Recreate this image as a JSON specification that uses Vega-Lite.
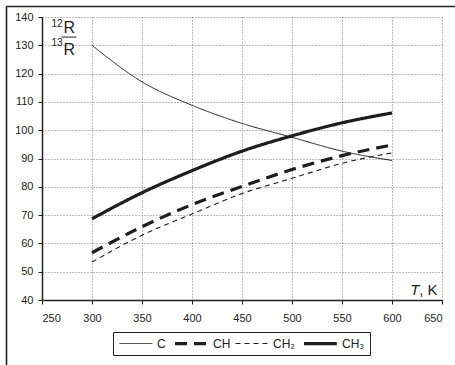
{
  "$schema": "https://vega.github.io/schema/vega-lite/v6.json",
  "width": 400,
  "height": 283,
  "autosize": {"type": "none"},
  "padding": {"left": 42, "top": 17, "right": 13, "bottom": 65},
  "background": "white",
  "config": {
    "view": {"stroke": null},
    "font": "Liberation Sans",
    "axis": {
      "labelFont": "Liberation Sans",
      "labelFontSize": 11,
      "labelColor": "#222",
      "domainColor": "#222",
      "domainWidth": 1.5,
      "tickColor": "#222",
      "tickWidth": 1,
      "tickSize": 4,
      "gridColor": "#7a7a7a",
      "gridDash": [1, 2],
      "gridWidth": 1,
      "labelOverlap": false,
      "title": null
    },
    "axisX": {"labelPadding": 8},
    "axisY": {"labelPadding": 5}
  },
  "datasets": {
    "series": [
      {"T": 300, "R": 130.0, "s": "C"},
      {"T": 350, "R": 117.1, "s": "C"},
      {"T": 400, "R": 108.8, "s": "C"},
      {"T": 450, "R": 102.4, "s": "C"},
      {"T": 500, "R": 97.5, "s": "C"},
      {"T": 550, "R": 92.6, "s": "C"},
      {"T": 600, "R": 89.3, "s": "C"},
      {"T": 300, "R": 56.7, "s": "CH"},
      {"T": 350, "R": 65.9, "s": "CH"},
      {"T": 400, "R": 73.7, "s": "CH"},
      {"T": 450, "R": 80.1, "s": "CH"},
      {"T": 500, "R": 86.1, "s": "CH"},
      {"T": 550, "R": 91.0, "s": "CH"},
      {"T": 600, "R": 94.8, "s": "CH"},
      {"T": 300, "R": 53.4, "s": "CH₂"},
      {"T": 350, "R": 62.9, "s": "CH₂"},
      {"T": 400, "R": 70.4, "s": "CH₂"},
      {"T": 450, "R": 77.6, "s": "CH₂"},
      {"T": 500, "R": 83.0, "s": "CH₂"},
      {"T": 550, "R": 88.3, "s": "CH₂"},
      {"T": 600, "R": 92.0, "s": "CH₂"},
      {"T": 300, "R": 68.7, "s": "CH₃"},
      {"T": 350, "R": 77.9, "s": "CH₃"},
      {"T": 400, "R": 85.7, "s": "CH₃"},
      {"T": 450, "R": 92.6, "s": "CH₃"},
      {"T": 500, "R": 98.0, "s": "CH₃"},
      {"T": 550, "R": 102.6, "s": "CH₃"},
      {"T": 600, "R": 106.1, "s": "CH₃"}
    ],
    "one": [{}]
  },
  "layer": [
    {
      "data": {"name": "series"},
      "mark": {"type": "line", "interpolate": "monotone", "color": "#1e1e1e"},
      "encoding": {
        "x": {
          "field": "T", "type": "quantitative",
          "scale": {"domain": [250, 650], "nice": false, "zero": false},
          "axis": {"grid": true, "values": [250, 300, 350, 400, 450, 500, 550, 600, 650]}
        },
        "y": {
          "field": "R", "type": "quantitative",
          "scale": {"domain": [40, 140], "nice": false, "zero": false},
          "axis": {"grid": true, "values": [40, 50, 60, 70, 80, 90, 100, 110, 120, 130, 140]}
        },
        "detail": {"field": "s"},
        "strokeDash": {
          "field": "s", "type": "nominal",
          "scale": {"domain": ["C", "CH", "CH₂", "CH₃"], "range": [[1, 0], [12, 7], [5, 4], [1, 0]]},
          "legend": {
            "title": null,
            "orient": "none",
            "legendX": 71,
            "legendY": 315,
            "direction": "horizontal",
            "symbolType": "M-1,0H6.3",
            "symbolSize": 81,
            "symbolStrokeColor": "#1e1e1e",
            "symbolFillColor": "transparent",
            "labelFont": "Liberation Sans",
            "labelFontSize": 12,
            "labelColor": "#222",
            "labelOffset": 27,
            "columnPadding": 2,
            "padding": 5,
            "strokeColor": "#222",
            "fillColor": "white"
          }
        },
        "strokeWidth": {
          "field": "s", "type": "nominal",
          "scale": {"type": "ordinal", "domain": ["C", "CH", "CH₂", "CH₃"], "range": [1, 3.2, 1.1, 3.2]},
          "legend": null
        }
      }
    },
    {
      "data": {"name": "one"},
      "mark": {"type": "rule", "clip": false, "color": "#222", "strokeWidth": 1.6},
      "encoding": {
        "x": {"datum": 214.5, "type": "quantitative", "axis": {"grid": true, "values": [250, 300, 350, 400, 450, 500, 550, 600, 650]}},
        "x2": {"datum": 700},
        "y": {"datum": 143.7, "type": "quantitative", "axis": {"grid": true, "values": [40, 50, 60, 70, 80, 90, 100, 110, 120, 130, 140]}}
      }
    },
    {
      "data": {"name": "one"},
      "mark": {"type": "rule", "clip": false, "color": "#222", "strokeWidth": 1.6},
      "encoding": {
        "x": {"datum": 214.5, "type": "quantitative", "axis": {"grid": true, "values": [250, 300, 350, 400, 450, 500, 550, 600, 650]}},
        "y": {"datum": 143.7, "type": "quantitative", "axis": {"grid": true, "values": [40, 50, 60, 70, 80, 90, 100, 110, 120, 130, 140]}},
        "y2": {"datum": 10}
      }
    },
    {
      "data": {"name": "one"},
      "mark": {"type": "rule", "clip": false, "color": "#222", "strokeWidth": 1},
      "encoding": {
        "x": {"datum": 269.5, "type": "quantitative", "axis": {"grid": true, "values": [250, 300, 350, 400, 450, 500, 550, 600, 650]}},
        "x2": {"datum": 284.5},
        "y": {"datum": 132.9, "type": "quantitative", "axis": {"grid": true, "values": [40, 50, 60, 70, 80, 90, 100, 110, 120, 130, 140]}}
      }
    },
    {
      "data": {"name": "one"},
      "mark": {"type": "text", "text": "12", "align": "right", "baseline": "alphabetic", "fontSize": 10, "color": "#222"},
      "encoding": {
        "x": {"datum": 270.5, "type": "quantitative", "axis": {"grid": true, "values": [250, 300, 350, 400, 450, 500, 550, 600, 650]}},
        "y": {"datum": 136.6, "type": "quantitative", "axis": {"grid": true, "values": [40, 50, 60, 70, 80, 90, 100, 110, 120, 130, 140]}}
      }
    },
    {
      "data": {"name": "one"},
      "mark": {"type": "text", "text": "R", "align": "left", "baseline": "alphabetic", "fontSize": 16, "color": "#222"},
      "encoding": {
        "x": {"datum": 271.5, "type": "quantitative", "axis": {"grid": true, "values": [250, 300, 350, 400, 450, 500, 550, 600, 650]}},
        "y": {"datum": 134.3, "type": "quantitative", "axis": {"grid": true, "values": [40, 50, 60, 70, 80, 90, 100, 110, 120, 130, 140]}}
      }
    },
    {
      "data": {"name": "one"},
      "mark": {"type": "text", "text": "13", "align": "right", "baseline": "alphabetic", "fontSize": 10, "color": "#222"},
      "encoding": {
        "x": {"datum": 270.5, "type": "quantitative", "axis": {"grid": true, "values": [250, 300, 350, 400, 450, 500, 550, 600, 650]}},
        "y": {"datum": 129.6, "type": "quantitative", "axis": {"grid": true, "values": [40, 50, 60, 70, 80, 90, 100, 110, 120, 130, 140]}}
      }
    },
    {
      "data": {"name": "one"},
      "mark": {"type": "text", "text": "R", "align": "left", "baseline": "alphabetic", "fontSize": 16, "color": "#222"},
      "encoding": {
        "x": {"datum": 271.5, "type": "quantitative", "axis": {"grid": true, "values": [250, 300, 350, 400, 450, 500, 550, 600, 650]}},
        "y": {"datum": 126.7, "type": "quantitative", "axis": {"grid": true, "values": [40, 50, 60, 70, 80, 90, 100, 110, 120, 130, 140]}}
      }
    },
    {
      "data": {"name": "one"},
      "mark": {"type": "text", "text": "T", "align": "right", "baseline": "alphabetic", "fontSize": 15, "fontStyle": "italic", "color": "#222"},
      "encoding": {
        "x": {"datum": 627.5, "type": "quantitative", "axis": {"grid": true, "values": [250, 300, 350, 400, 450, 500, 550, 600, 650]}},
        "y": {"datum": 41.6, "type": "quantitative", "axis": {"grid": true, "values": [40, 50, 60, 70, 80, 90, 100, 110, 120, 130, 140]}}
      }
    },
    {
      "data": {"name": "one"},
      "mark": {"type": "text", "text": ", K", "align": "right", "baseline": "alphabetic", "fontSize": 15, "color": "#222"},
      "encoding": {
        "x": {"datum": 645.5, "type": "quantitative", "axis": {"grid": true, "values": [250, 300, 350, 400, 450, 500, 550, 600, 650]}},
        "y": {"datum": 41.6, "type": "quantitative", "axis": {"grid": true, "values": [40, 50, 60, 70, 80, 90, 100, 110, 120, 130, 140]}}
      }
    }
  ]
}
